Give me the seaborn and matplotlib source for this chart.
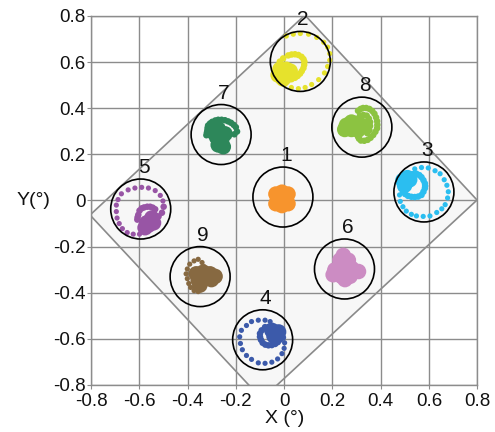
import matplotlib
matplotlib.use("Agg")
import matplotlib.pyplot as plt
import pandas as pd
import seaborn as sns
from matplotlib.patches import Polygon

# Fixation targets (degrees)
target_ids = ["1", "2", "3", "4", "5", "6", "7", "8", "9"]
target_x = [-0.005, 0.067, 0.579, -0.089, -0.594, 0.250, -0.261, 0.322, -0.348]
target_y = [0.015, 0.603, 0.037, -0.604, -0.037, -0.297, 0.286, 0.318, -0.330]
target_colors = ["#f7942d", "#e6e22c", "#2bbef0", "#3c5aaa", "#9855a5",
                 "#cc8cc3", "#2d875a", "#8cc341", "#876941"]

# Calibration area outline (degrees)
area_x = [0.086, 0.799, -0.092, -0.804]
area_y = [0.804, 0.002, -0.861, -0.063]

axis_ticks = [-0.8, -0.6, -0.4, -0.2, 0, 0.2, 0.4, 0.6, 0.8]
tick_labels = ["-0.8", "-0.6", "-0.4", "-0.2", "0", "0.2", "0.4", "0.6", "0.8"]

# Gaze offsets from each target (degrees): sparse saccade samples,
# dense trace samples and fixation dwell samples
sparse_2 = [(-0.058, 0.110), (-0.029, 0.118), (0.000, 0.121), (0.034, 0.118), (0.068, 0.104),
            (0.097, 0.083), (0.113, 0.062), (0.122, 0.034), (0.122, 0.005), (0.113, -0.022),
            (0.100, -0.050), (0.076, -0.079), (0.047, -0.100), (0.020, -0.113), (-0.008, -0.118),
            (-0.037, -0.113), (-0.064, -0.100), (-0.092, -0.085), (-0.106, -0.064)]
trace_2 = [(-0.085, -0.001), (-0.071, 0.013), (-0.050, 0.026), (-0.036, 0.030), (-0.022, 0.031),
           (-0.008, 0.028), (0.005, 0.020), (0.013, 0.010), (0.017, -0.001), (0.016, -0.015),
           (0.013, -0.029), (0.006, -0.042), (-0.001, -0.053), (-0.011, -0.063), (-0.022, -0.071),
           (-0.036, -0.077), (-0.050, -0.079), (-0.065, -0.080), (-0.079, -0.079), (-0.092, -0.074),
           (-0.102, -0.067)]
dwell_2 = [(-0.084, -0.034), (-0.059, -0.034), (-0.071, -0.055), (-0.092, -0.059), (-0.050, -0.059),
           (-0.071, -0.076), (-0.042, -0.042)]

sparse_3 = [(-0.038, 0.100), (-0.010, 0.106), (0.018, 0.104), (0.046, 0.092), (0.067, 0.079),
            (0.084, 0.053), (0.095, 0.029), (0.101, 0.001), (0.098, -0.026), (0.088, -0.055),
            (0.074, -0.073), (0.053, -0.089), (0.025, -0.104), (-0.003, -0.106), (-0.031, -0.104),
            (-0.052, -0.097), (-0.073, -0.083), (-0.087, -0.064), (-0.098, -0.041), (-0.101, -0.013),
            (-0.098, 0.016)]
trace_3 = [(-0.059, 0.071), (-0.045, 0.077), (-0.031, 0.079), (-0.019, 0.073), (-0.010, 0.064),
           (-0.002, 0.051), (0.004, 0.037), (0.005, 0.026), (0.004, 0.016), (-0.002, 0.001),
           (-0.010, -0.013), (-0.024, -0.020), (-0.038, -0.022), (-0.052, -0.021), (-0.066, -0.017),
           (-0.078, -0.009), (-0.087, 0.001), (-0.094, 0.015), (-0.098, 0.029)]
dwell_3 = [(-0.073, 0.043), (-0.087, 0.050), (-0.059, 0.053), (-0.080, 0.029), (-0.068, 0.062)]

sparse_4 = [(-0.067, 0.062), (-0.046, 0.079), (-0.018, 0.085), (0.010, 0.085), (0.031, 0.079),
            (-0.088, 0.041), (-0.095, 0.013), (-0.092, -0.016), (-0.084, -0.043), (-0.067, -0.068),
            (-0.046, -0.085), (-0.018, -0.100), (0.010, -0.102), (0.038, -0.097), (0.062, -0.083),
            (0.080, -0.060), (0.089, -0.037), (0.091, -0.013)]
trace_4 = [(0.084, 0.010), (0.010, 0.055), (-0.004, 0.041), (-0.011, 0.027), (-0.011, 0.013),
           (-0.007, 0.000), (0.000, -0.013), (0.011, -0.021), (0.024, -0.024), (0.038, -0.023),
           (0.052, -0.018), (0.063, -0.010), (0.073, 0.001), (0.026, 0.055)]
dwell_4 = [(0.052, 0.029), (0.038, 0.041), (0.066, 0.034), (0.047, 0.016)]

sparse_5 = [(-0.052, 0.083), (-0.024, 0.091), (0.004, 0.094), (0.032, 0.091), (0.060, 0.080),
            (0.081, 0.059), (0.092, 0.035), (-0.080, 0.066), (-0.094, 0.041), (-0.101, 0.017),
            (-0.101, -0.011), (-0.098, -0.039), (-0.089, -0.063), (-0.076, -0.085), (-0.056, -0.102),
            (-0.031, -0.109), (-0.005, -0.109)]
trace_5 = [(0.095, 0.010), (0.088, -0.016), (0.074, -0.032), (0.062, -0.040), (-0.010, -0.025),
           (-0.005, -0.007), (0.004, 0.003), (0.014, 0.007), (0.027, 0.010), (0.039, 0.010),
           (0.050, 0.006), (0.060, -0.001), (-0.014, -0.046), (-0.013, -0.036)]
dwell_5 = [(0.039, -0.053), (0.025, -0.060), (0.046, -0.039), (0.018, -0.081), (0.053, -0.060),
           (0.032, -0.070)]

dwell_1 = [(-0.004, -0.008), (-0.029, 0.013), (0.021, 0.013), (-0.029, -0.029), (0.021, -0.029),
           (-0.004, 0.021), (-0.004, -0.037)]

dwell_6 = [(-0.005, 0.059), (-0.019, 0.038), (0.016, 0.038), (-0.040, -0.004), (-0.005, 0.003),
           (0.030, 0.003), (-0.047, -0.025), (-0.012, -0.032), (0.023, -0.032), (0.058, -0.011),
           (0.002, -0.046)]

trace_7 = [(-0.057, 0.018), (-0.056, 0.029), (-0.054, 0.039), (-0.046, 0.048), (-0.037, 0.055),
           (-0.024, 0.061), (-0.012, 0.064), (0.002, 0.064), (0.016, 0.062), (0.029, 0.057),
           (0.041, 0.051), (0.052, 0.042), (0.061, 0.032), (0.066, 0.013), (0.055, 0.001),
           (-0.061, -0.003), (-0.059, 0.008)]
dwell_7 = [(-0.012, 0.024), (-0.019, -0.011), (0.002, -0.024), (-0.012, -0.045), (0.009, -0.053),
           (-0.033, 0.011), (0.016, 0.003)]

trace_8 = [(-0.016, 0.071), (-0.005, 0.079), (0.005, 0.083), (0.018, 0.083), (0.031, 0.079),
           (0.043, 0.070), (0.052, 0.058), (0.059, 0.042), (0.063, 0.026), (0.064, 0.010),
           (0.063, -0.005), (0.056, -0.020), (0.047, -0.034), (0.036, -0.046), (0.024, -0.055),
           (0.010, -0.059), (-0.004, -0.058), (-0.012, -0.050), (-0.016, -0.041),
           (-0.008, 0.050), (0.006, 0.053), (0.020, 0.050), (0.029, 0.037), (0.034, 0.022),
           (0.034, 0.005), (0.031, -0.013), (0.022, -0.026)]
dwell_8 = [(-0.064, 0.008), (-0.043, 0.022), (-0.022, 0.016), (-0.043, -0.010), (-0.016, -0.013),
           (-0.001, 0.008), (-0.071, -0.010)]

sparse_9 = [(-0.008, 0.075), (-0.025, 0.068), (-0.043, 0.054), (-0.053, 0.033), (-0.058, 0.012),
            (-0.053, -0.009), (-0.047, -0.030), (-0.039, -0.047), (-0.025, -0.061), (-0.008, -0.065),
            (0.008, 0.061), (0.017, 0.043)]
dwell_9 = [(-0.016, 0.012), (0.013, 0.019), (0.041, 0.012), (0.062, 0.001), (0.020, -0.009),
           (-0.008, -0.016), (0.047, -0.013), (-0.001, -0.037)]

samples = {
    "sparse": {"2": sparse_2, "3": sparse_3, "4": sparse_4, "5": sparse_5, "9": sparse_9},
    "trace": {"2": trace_2, "3": trace_3, "4": trace_4, "5": trace_5, "7": trace_7, "8": trace_8},
    "dwell": {"1": dwell_1, "2": dwell_2, "3": dwell_3, "4": dwell_4, "5": dwell_5,
              "6": dwell_6, "7": dwell_7, "8": dwell_8, "9": dwell_9},
}

centers = {t: (x, y) for t, x, y in zip(target_ids, target_x, target_y)}
rows = []
for kind, groups in samples.items():
    for tid, offsets in groups.items():
        cx, cy = centers[tid]
        for dx, dy in offsets:
            rows.append({"kind": kind, "target": tid, "x": cx + dx, "y": cy + dy})
gaze = pd.DataFrame(rows)
targets = pd.DataFrame({"target": target_ids, "x": target_x, "y": target_y})
palette = dict(zip(target_ids, target_colors))

sns.set_theme(style="white")
plt.rcParams["font.family"] = ["Liberation Sans", "DejaVu Sans"]

fig = plt.figure(figsize=(4.95, 4.32), dpi=100)
ax = fig.add_axes([0.1838, 0.1088, 0.7804, 0.8542])

ax.add_patch(Polygon(list(zip(area_x, area_y)), closed=True, facecolor="#f7f7f7",
                     edgecolor="#8a8a8a", linewidth=1.2, zorder=0.5))

marker_sizes = {"sparse": 14, "trace": 22, "dwell": 125}
for kind, size in marker_sizes.items():
    sns.scatterplot(data=gaze[gaze["kind"] == kind], x="x", y="y", hue="target",
                    palette=palette, s=size, linewidth=0, legend=False, ax=ax, zorder=3)

sns.scatterplot(data=targets, x="x", y="y", s=1866, facecolors="none",
                edgecolor="black", linewidth=1.2, legend=False, ax=ax, zorder=4)

for tid, x, y in zip(target_ids, target_x, target_y):
    ax.text(x + 0.012, y + 0.18, tid, fontsize=15, ha="center", va="center",
            color="#111111", zorder=5)

ax.set_xlim(-0.8, 0.8)
ax.set_ylim(-0.8, 0.8)
ax.set_xticks(axis_ticks)
ax.set_yticks(axis_ticks)
ax.set_xticklabels(tick_labels, fontsize=13.5)
ax.set_yticklabels(tick_labels, fontsize=13.5)
ax.grid(True, color="#8c8c8c", linewidth=1.0, zorder=1)
ax.set_axisbelow(True)
for sp in ax.spines.values():
    sp.set_color("#8c8c8c")
    sp.set_linewidth(1.0)
ax.tick_params(axis="x", direction="out", length=3, width=0.8, color="#8c8c8c",
               pad=3, labelcolor="#111111", bottom=True)
ax.tick_params(axis="y", direction="out", length=3, width=0.8, color="#8c8c8c",
               pad=1, labelcolor="#111111", left=True)
ax.set_xlabel("X (°)", fontsize=14, color="#111111", labelpad=0)
ax.set_ylabel("Y(°)", fontsize=14, color="#111111", rotation=0, labelpad=14,
              va="center")

fig.savefig("out.png", dpi=100)
